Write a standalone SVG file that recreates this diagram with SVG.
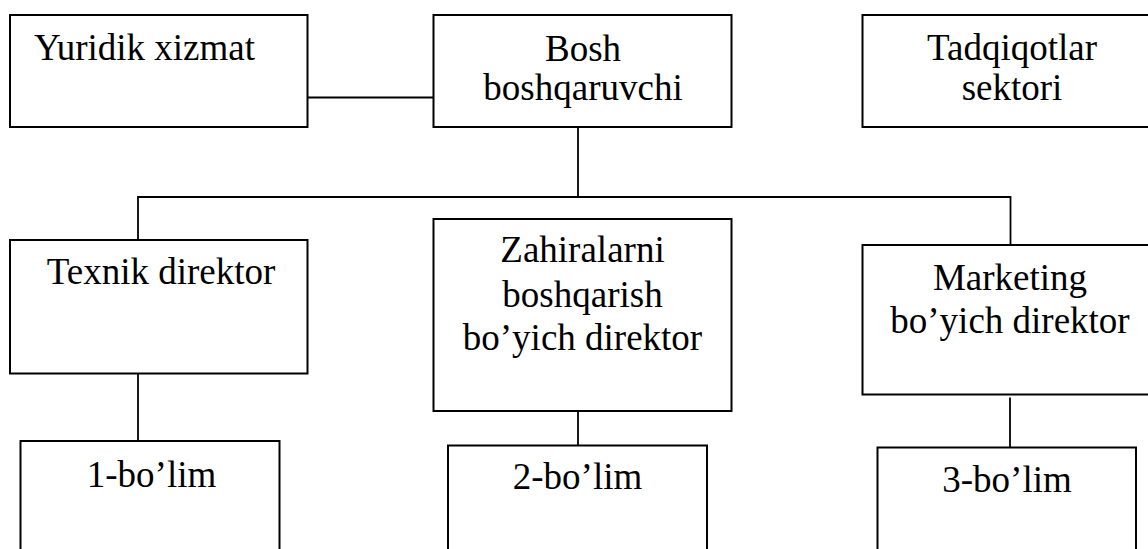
<svg xmlns="http://www.w3.org/2000/svg" width="1148" height="549" viewBox="0 0 1148 549">
  <style>
    .box { fill: #ffffff; stroke: #000000; stroke-width: 2; }
    .link { fill: none; stroke: #000000; stroke-width: 1.8; }
    .label { font-size: 37px; fill: #000000; text-anchor: middle; }
  </style>
  <rect width="1148" height="549" fill="#ffffff"/>

  <!-- connectors -->
  <g id="connectors">
    <line class="link" x1="307.5" y1="97.5" x2="433.5" y2="97.5"/>
    <line class="link" x1="578" y1="127" x2="578" y2="197"/>
    <polyline class="link" points="138,240 138,197 1010.5,197 1010.5,245"/>
    <line class="link" x1="138" y1="373.5" x2="138" y2="441"/>
    <line class="link" x1="578" y1="411" x2="578" y2="445.5"/>
    <line class="link" x1="1010" y1="397.5" x2="1010" y2="447.5"/>
  </g>

  <g id="nodes" font-family="'Liberation Serif', 'Times New Roman', serif">
    <!-- top row -->
    <g id="node-yuridik">
      <rect class="box" x="10" y="15" width="297.5" height="112"/>
      <text class="label" x="144.5" y="60">Yuridik xizmat</text>
    </g>
    <g id="node-bosh">
      <rect class="box" x="433.5" y="15" width="298" height="112"/>
      <text class="label" x="583" y="61">Bosh</text>
      <text class="label" x="583" y="100">boshqaruvchi</text>
    </g>
    <g id="node-tadqiqot">
      <rect class="box" x="862.5" y="15" width="300" height="112"/>
      <text class="label" x="1012" y="60">Tadqiqotlar</text>
      <text class="label" x="1012" y="100">sektori</text>
    </g>

    <!-- directors -->
    <g id="node-texnik">
      <rect class="box" x="10" y="240" width="297.5" height="133.5"/>
      <text class="label" x="161" y="284">Texnik direktor</text>
    </g>
    <g id="node-zahira">
      <rect class="box" x="433.5" y="219" width="298" height="192"/>
      <text class="label" x="582.5" y="262">Zahiralarni</text>
      <text class="label" x="582.5" y="306.5">boshqarish</text>
      <text class="label" x="582.5" y="350">bo’yich direktor</text>
    </g>
    <g id="node-marketing">
      <rect class="box" x="862.5" y="245" width="300" height="149.5"/>
      <text class="label" x="1010" y="290">Marketing</text>
      <text class="label" x="1010" y="333">bo’yich direktor</text>
    </g>

    <!-- departments -->
    <g id="node-bolim1">
      <rect class="box" x="20.5" y="441" width="259" height="130"/>
      <text class="label" x="151.5" y="487">1-bo’lim</text>
    </g>
    <g id="node-bolim2">
      <rect class="box" x="448" y="445.5" width="259" height="130"/>
      <text class="label" x="577.5" y="488.5">2-bo’lim</text>
    </g>
    <g id="node-bolim3">
      <rect class="box" x="877.5" y="447.5" width="258.5" height="130"/>
      <text class="label" x="1007" y="492">3-bo’lim</text>
    </g>
  </g>
</svg>
